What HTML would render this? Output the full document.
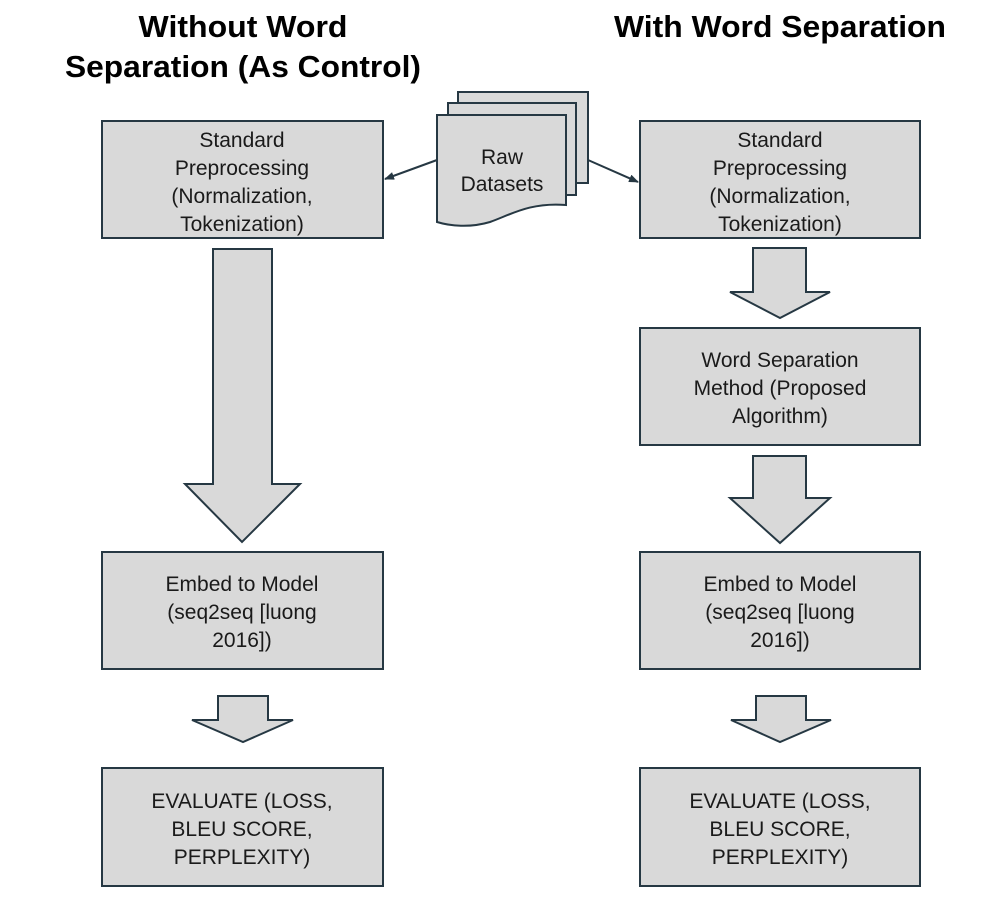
<!DOCTYPE html>
<html><head><meta charset="utf-8"><style>html,body{margin:0;padding:0;background:#fff}svg{display:block}</style></head>
<body>
<svg width="1007" height="907" viewBox="0 0 1007 907" xmlns="http://www.w3.org/2000/svg" font-family="Liberation Sans, Arial, sans-serif">
<defs><marker id="ah" markerWidth="10" markerHeight="8" refX="9" refY="4" orient="auto" markerUnits="userSpaceOnUse"><path d="M0,0 L10,4 L0,8 z" fill="#263843"/></marker></defs>
<g font-weight="bold" font-size="31" fill="#000" text-anchor="middle">
<text x="243" y="37" textLength="209" lengthAdjust="spacingAndGlyphs">Without Word</text>
<text x="243" y="77" textLength="356" lengthAdjust="spacingAndGlyphs">Separation (As Control)</text>
<text x="780" y="37" textLength="332" lengthAdjust="spacingAndGlyphs">With Word Separation</text>
</g>
<g fill="#d9d9d9" stroke="#263843" stroke-width="2">
<rect x="102" y="121" width="281" height="117"/>
<rect x="640" y="121" width="280" height="117"/>
<rect x="640" y="328" width="280" height="117"/>
<rect x="102" y="552" width="281" height="117"/>
<rect x="640" y="552" width="280" height="117"/>
<rect x="102" y="768" width="281" height="118"/>
<rect x="640" y="768" width="280" height="118"/>
<polygon points="213,249 272,249 272,484 300,484 242,542 185,484 213,484"/>
<polygon points="218,696 268,696 268,720 293,720 243,742 192,720 218,720"/>
<polygon points="756,696 806,696 806,720 831,720 780,742 731,720 756,720"/>
<polygon points="753,248 806,248 806,292 830,292 780,318 730,292 753,292"/>
<polygon points="753,456 806,456 806,498 830,498 780,543 730,498 753,498"/>
<rect x="458" y="92" width="130" height="91"/>
<rect x="448" y="103" width="128" height="92"/>
<path d="M437,115 H566 V205 C530,202 510,215 490,222 C470,228 450,226 437,222 Z"/>
</g>
<g stroke="#263843" stroke-width="2" fill="none">
<line x1="437" y1="160" x2="385" y2="179" marker-end="url(#ah)"/>
<line x1="588" y1="160" x2="638" y2="182" marker-end="url(#ah)"/>
</g>
<g font-size="21" fill="#1a1a1a" text-anchor="middle">
<text x="502" y="164">Raw</text><text x="502" y="191">Datasets</text>
<text x="242" y="147">Standard</text><text x="242" y="175">Preprocessing</text><text x="242" y="203">(Normalization,</text><text x="242" y="231">Tokenization)</text>
<text x="780" y="147">Standard</text><text x="780" y="175">Preprocessing</text><text x="780" y="203">(Normalization,</text><text x="780" y="231">Tokenization)</text>
<text x="780" y="367">Word Separation</text><text x="780" y="395">Method (Proposed</text><text x="780" y="423">Algorithm)</text>
<text x="242" y="591">Embed to Model</text><text x="242" y="619">(seq2seq [luong</text><text x="242" y="647">2016])</text>
<text x="780" y="591">Embed to Model</text><text x="780" y="619">(seq2seq [luong</text><text x="780" y="647">2016])</text>
<text x="242" y="808">EVALUATE (LOSS,</text><text x="242" y="836">BLEU SCORE,</text><text x="242" y="864">PERPLEXITY)</text>
<text x="780" y="808">EVALUATE (LOSS,</text><text x="780" y="836">BLEU SCORE,</text><text x="780" y="864">PERPLEXITY)</text>
</g>
</svg>
</body></html>
